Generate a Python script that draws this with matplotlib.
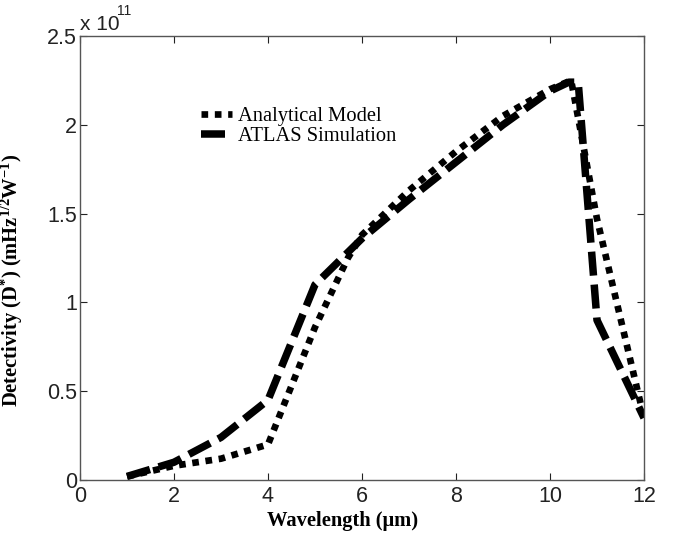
import numpy as np
import matplotlib
matplotlib.use("Agg")
import matplotlib.pyplot as plt

# Detectivity vs wavelength, in units of 1e11 mHz^1/2 W^-1
wl_model = [1, 2, 3, 4, 5, 5.7, 6, 7, 8, 9, 10, 10.45, 11, 12]
d_model = [0.02, 0.08, 0.12, 0.20, 0.86, 1.25, 1.38, 1.63, 1.85, 2.05, 2.20, 2.25, 1.47, 0.35]

wl_atlas = [1, 2, 3, 4, 5, 6, 7, 8, 9, 10, 10.4, 10.6, 11, 12]
d_atlas = [0.02, 0.10, 0.24, 0.45, 1.10, 1.36, 1.58, 1.79, 2.00, 2.19, 2.24, 2.24, 0.90, 0.35]

x_ticks = [0, 2, 4, 6, 8, 10, 12]
y_ticks = [0, 0.5, 1, 1.5, 2, 2.5]
y_tick_labels = ["0", "0.5", "1", "1.5", "2", "2.5"]

plt.rcParams["mathtext.fontset"] = "custom"
plt.rcParams["mathtext.rm"] = "Liberation Serif:bold"
plt.rcParams["mathtext.bf"] = "Liberation Serif:bold"
plt.rcParams["mathtext.it"] = "Liberation Serif:bold"

fig = plt.figure(figsize=(6.73, 5.37), dpi=100)
ax = fig.add_axes([80 / 673, 57 / 537, 564 / 673, 444 / 537])

ax.plot(wl_model, d_model, color="black", linewidth=4.8,
        dashes=(1.0, 1.0), dash_capstyle="butt", solid_joinstyle="miter",
        label="Analytical Model")
ax.plot(wl_atlas, d_atlas, color="black", linewidth=5.4,
        dashes=(3.2, 1.2), dash_capstyle="butt", solid_joinstyle="miter",
        label="ATLAS Simulation")

ax.set_xlim(0, 12)
ax.set_ylim(0, 2.5)
ax.set_xticks(x_ticks)
ax.set_yticks(y_ticks)
ax.set_yticklabels(y_tick_labels)
ax.tick_params(direction="in", top=True, right=True, length=5, width=0.8,
               labelsize=15.5, colors="#222222")
ax.tick_params(axis="y", pad=2)
ax.tick_params(axis="x", pad=4)
for lab in ax.get_xticklabels() + ax.get_yticklabels():
    lab.set_family("Liberation Sans")
for sp in ax.spines.values():
    sp.set_color("#555555")
    sp.set_linewidth(1.0)

# exponent marker above the y axis
ax.text(0.0, 1.005, "x 10", transform=ax.transAxes, ha="left", va="bottom",
        fontsize=15, family="Liberation Sans", color="#222222")
ax.text(0.066, 1.04, "11", transform=ax.transAxes, ha="left", va="bottom",
        fontsize=10, family="Liberation Sans", color="#222222")

ax.set_xlabel("Wavelength (\u03bcm)", family="Liberation Serif",
              fontweight="bold", fontsize=14.8)
ax.xaxis.set_label_coords(0.466, -0.07)
ax.set_ylabel(r"Detectivity (D$^{*}$) (mHz$^{1/2}$W$^{-1}$)",
              family="Liberation Serif", fontweight="bold", fontsize=14.8)
ax.yaxis.set_label_coords(-0.098, 0.45)

leg = ax.legend(loc="upper left", bbox_to_anchor=(0.2, 0.86), frameon=False,
                prop={"family": "Liberation Serif", "size": 14.8},
                handlelength=1.5, handletextpad=0.3, labelspacing=0.05,
                borderaxespad=0)

fig.savefig("out.png", dpi=100)
